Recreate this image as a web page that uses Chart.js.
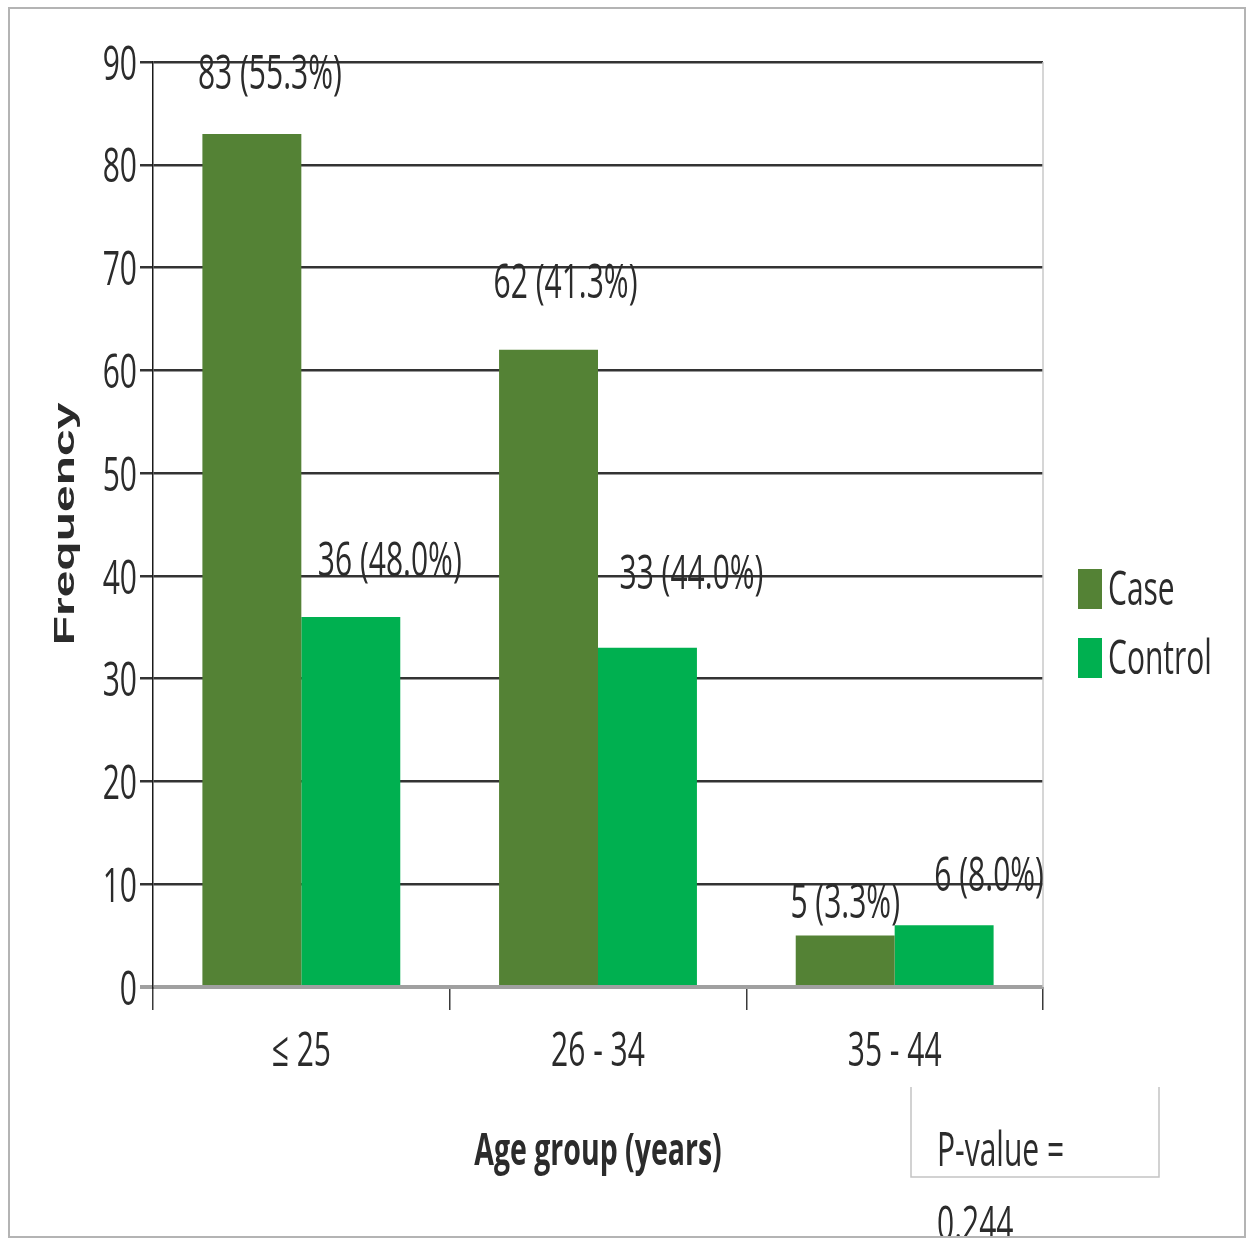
<!DOCTYPE html>
<html>
<head>
<meta charset="utf-8">
<script src="https://cdn.jsdelivr.net/npm/chart.js@4/dist/chart.umd.min.js"></script>
<style>
  html, body { margin: 0; padding: 0; background: #fff; }
  canvas { display: block; }
</style>
</head>
<body>
<canvas id="chart" width="1246" height="1239"></canvas>
<script>
// Age groups and frequencies
const categories = ['\u2264 25', '26 - 34', '35 - 44'];
const caseCounts = [83, 62, 5];
const casePercents = [55.3, 41.3, 3.3];
const controlCounts = [36, 33, 6];
const controlPercents = [48.0, 44.0, 8.0];
const yTicks = [0, 10, 20, 30, 40, 50, 60, 70, 80, 90];
const pValueText = ['P-value =', '0.244'];

const CASE_COLOR = '#548235';
const CONTROL_COLOR = '#00B050';
const TEXT_COLOR = '#2b2b2b';
const STRETCH = 1.6;               // vertical stretch applied to all text
const FONT = '"Open Sans", "Liberation Sans", sans-serif';

// label offsets from the top-centre of each bar [dx, dy]
const caseLabelOffsets = [[18, -59], [17, -65], [0, -31]];
const controlLabelOffsets = [[39, -55], [44, -73], [45, -48]];

function stretchedText(ctx, text, x, y, font, align, k) {
  ctx.save();
  ctx.translate(x, y);
  ctx.scale(1, k);
  ctx.font = font;
  ctx.textAlign = align;
  ctx.textBaseline = 'middle';
  ctx.fillStyle = TEXT_COLOR;
  ctx.fillText(text, 0, 0);
  ctx.restore();
}

const decorations = {
  id: 'decorations',
  afterDraw(chart) {
    const ctx = chart.ctx;
    const area = chart.chartArea;
    const x = chart.scales.x;
    const y = chart.scales.y;

    // right edge of the plot
    ctx.save();
    ctx.strokeStyle = '#c8c8c8';
    ctx.lineWidth = 1.5;
    ctx.beginPath();
    ctx.moveTo(area.right, area.top);
    ctx.lineTo(area.right, area.bottom);
    ctx.stroke();
    ctx.restore();

    // y tick labels
    yTicks.forEach(v => {
      stretchedText(ctx, String(v), 137, y.getPixelForValue(v) + 4,
        '30px ' + FONT, 'right', STRETCH);
    });

    // category labels
    categories.forEach((c, i) => {
      stretchedText(ctx, c, x.getPixelForValue(i), 1052,
        '30px ' + FONT, 'center', STRETCH);
    });

    // value labels
    const addLabels = (dsIndex, counts, pcts, offsets) => {
      const meta = chart.getDatasetMeta(dsIndex);
      meta.data.forEach((bar, i) => {
        const txt = counts[i] + ' (' + pcts[i].toFixed(1) + '%)';
        stretchedText(ctx, txt, bar.x + offsets[i][0], bar.y + offsets[i][1],
          '30px ' + FONT, 'center', STRETCH);
      });
    };
    addLabels(0, caseCounts, casePercents, caseLabelOffsets);
    addLabels(1, controlCounts, controlPercents, controlLabelOffsets);

    // axis titles
    stretchedText(ctx, 'Age group (years)', 598, 1152,
      'bold 28.5px ' + FONT, 'center', STRETCH);

    ctx.save();
    ctx.translate(66, 524);
    ctx.rotate(-Math.PI / 2);
    ctx.scale(STRETCH, 1);
    ctx.font = 'bold 30px "Liberation Sans", Arial, sans-serif';
    ctx.textAlign = 'center';
    ctx.textBaseline = 'middle';
    ctx.fillStyle = TEXT_COLOR;
    ctx.fillText('Frequency', 0, 0);
    ctx.restore();

    // legend
    const legendItems = [
      { label: chart.data.datasets[0].label, color: CASE_COLOR, cy: 589 },
      { label: chart.data.datasets[1].label, color: CONTROL_COLOR, cy: 658 }
    ];
    legendItems.forEach(it => {
      ctx.fillStyle = it.color;
      ctx.fillRect(1078, it.cy - 20, 24, 40);
      stretchedText(ctx, it.label, 1108, it.cy + 2, '30px ' + FONT, 'left', STRETCH);
    });

    // p-value box
    ctx.save();
    ctx.strokeStyle = '#c4c4c4';
    ctx.lineWidth = 1.5;
    ctx.beginPath();
    ctx.moveTo(911, 1087);
    ctx.lineTo(911, 1177);
    ctx.lineTo(1159, 1177);
    ctx.lineTo(1159, 1087);
    ctx.stroke();
    ctx.restore();
    stretchedText(ctx, pValueText[0], 937, 1152, '30px ' + FONT, 'left', STRETCH);

    // second line runs past the outer frame and is clipped there
    ctx.save();
    ctx.beginPath();
    ctx.rect(0, 0, 1246, 1236);
    ctx.clip();
    stretchedText(ctx, pValueText[1], 937, 1226, '30px ' + FONT, 'left', STRETCH);
    ctx.restore();

    // outer frame
    ctx.save();
    ctx.strokeStyle = '#b4b4b4';
    ctx.lineWidth = 2;
    ctx.strokeRect(9, 8, 1236, 1229);
    ctx.restore();
  }
};

new Chart(document.getElementById('chart'), {
  type: 'bar',
  data: {
    labels: categories,
    datasets: [
      { label: 'Case', data: caseCounts, backgroundColor: CASE_COLOR,
        barPercentage: 1.0, categoryPercentage: 0.667 },
      { label: 'Control', data: controlCounts, backgroundColor: CONTROL_COLOR,
        barPercentage: 1.0, categoryPercentage: 0.667 }
    ]
  },
  options: {
    responsive: false,
    animation: false,
    devicePixelRatio: 1,
    layout: { padding: { left: 0, top: 62, right: 203, bottom: 222 } },
    plugins: { legend: { display: false }, tooltip: { enabled: false } },
    scales: {
      x: {
        afterFit(scale) { scale.height = 30; },
        ticks: { display: false },
        border: { display: false },
        grid: {
          offset: true,
          drawOnChartArea: false,
          drawTicks: true,
          tickLength: 23,
          color: '#3a3a3a',
          lineWidth: 1.5
        }
      },
      y: {
        min: 0,
        max: 90,
        afterFit(scale) { scale.width = 153; },
        ticks: { display: false, stepSize: 10 },
        border: { display: true, color: '#1a1a1a', width: 1.5 },
        grid: {
          drawTicks: true,
          tickLength: 13,
          color: c => c.tick && c.tick.value === 0 ? '#a0a0a0' : '#333333',
          lineWidth: c => c.tick && c.tick.value === 0 ? 4 : 2.5
        }
      }
    }
  },
  plugins: [decorations]
});
</script>
</body>
</html>
